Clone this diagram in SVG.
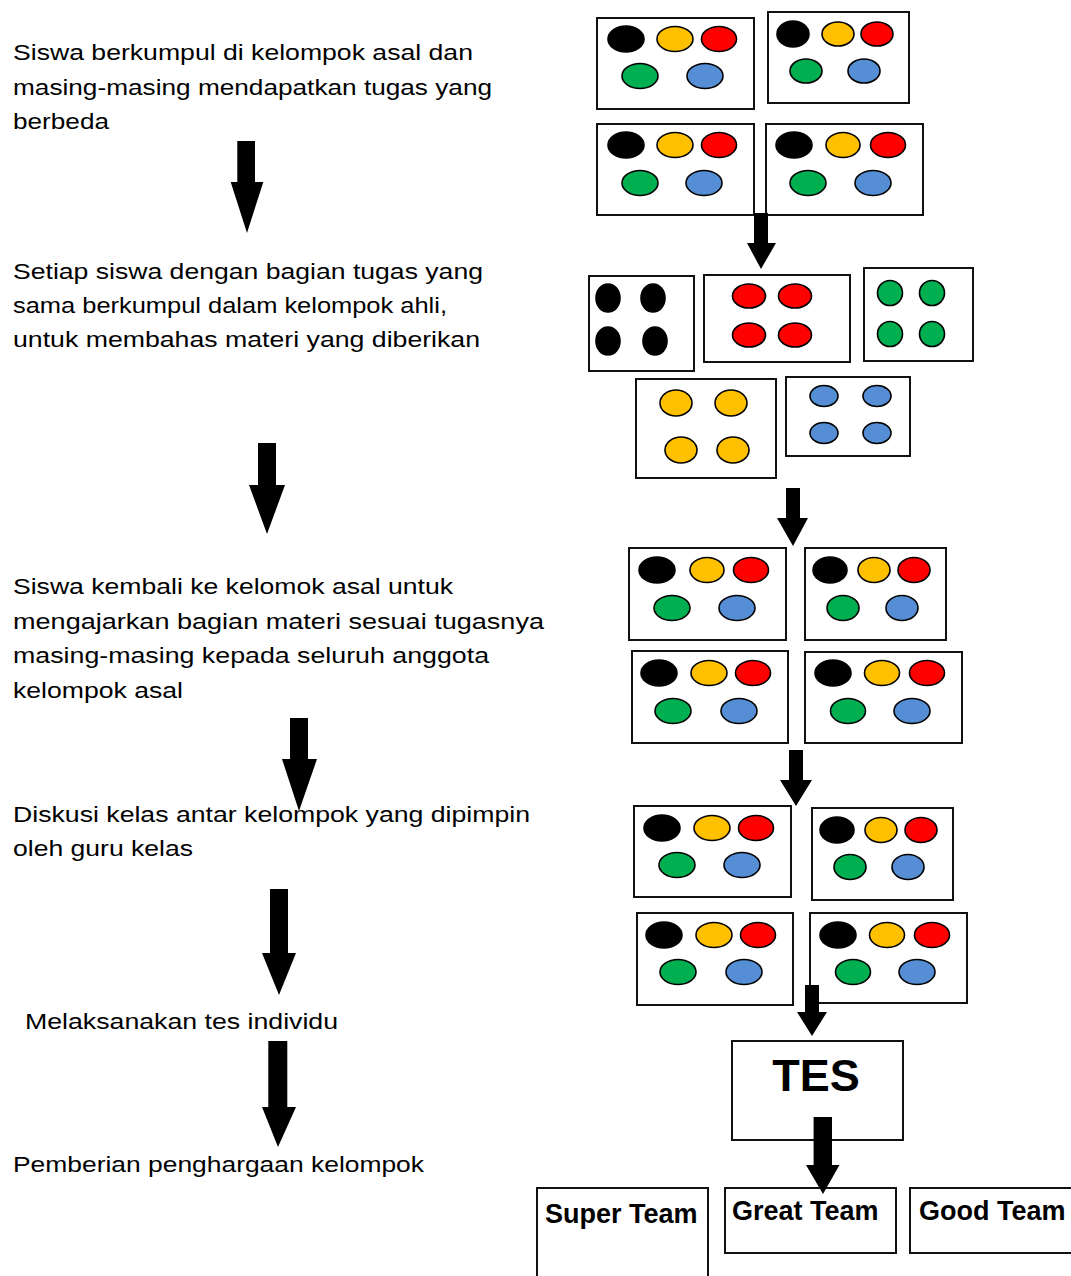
<svg xmlns="http://www.w3.org/2000/svg" width="1071" height="1276" viewBox="0 0 1071 1276">
<style>
.bg{fill:#fff}
.box{fill:#fff;stroke:#111;stroke-width:2}
.e{stroke:#000;stroke-width:1.6}
.k{fill:#000}.y{fill:#FFC000}.r{fill:#FF0000}.g{fill:#00B050}.b{fill:#558ED5}
.t{font-family:"Liberation Sans",Arial,sans-serif;font-size:22.5px;fill:#000}
.lb{font-family:"Liberation Sans",Arial,sans-serif;font-weight:bold;font-size:27px;fill:#000}
.arr{fill:#000}
</style>
<rect class="bg" x="0" y="0" width="1071" height="1276"/>

<g id="step-texts">
<g id="step1">
<text class="t" transform="translate(13,60) scale(1.165,1)" x="0" y="0" textLength="394.8" lengthAdjust="spacingAndGlyphs">Siswa berkumpul di kelompok asal dan</text>
<text class="t" transform="translate(13,95) scale(1.165,1)" x="0" y="0" textLength="411.2" lengthAdjust="spacingAndGlyphs">masing-masing mendapatkan tugas yang</text>
<text class="t" transform="translate(13,129) scale(1.165,1)" x="0" y="0" textLength="82.4" lengthAdjust="spacingAndGlyphs">berbeda</text>
</g>
<g id="step2">
<text class="t" transform="translate(13,279) scale(1.165,1)" x="0" y="0" textLength="403.4" lengthAdjust="spacingAndGlyphs">Setiap siswa dengan bagian tugas yang</text>
<text class="t" transform="translate(13,313) scale(1.165,1)" x="0" y="0" textLength="372.5" lengthAdjust="spacingAndGlyphs">sama berkumpul dalam kelompok ahli,</text>
<text class="t" transform="translate(13,347) scale(1.165,1)" x="0" y="0" textLength="400.9" lengthAdjust="spacingAndGlyphs">untuk membahas materi yang diberikan</text>
</g>
<g id="step3">
<text class="t" transform="translate(13,594) scale(1.165,1)" x="0" y="0" textLength="377.7" lengthAdjust="spacingAndGlyphs">Siswa kembali ke kelomok asal untuk</text>
<text class="t" transform="translate(13,629) scale(1.165,1)" x="0" y="0" textLength="455.8" lengthAdjust="spacingAndGlyphs">mengajarkan bagian materi sesuai tugasnya</text>
<text class="t" transform="translate(13,663) scale(1.165,1)" x="0" y="0" textLength="408.6" lengthAdjust="spacingAndGlyphs">masing-masing kepada seluruh anggota</text>
<text class="t" transform="translate(13,698) scale(1.165,1)" x="0" y="0" textLength="145.9" lengthAdjust="spacingAndGlyphs">kelompok asal</text>
</g>
<g id="step4">
<text class="t" transform="translate(13,822) scale(1.165,1)" x="0" y="0" textLength="443.8" lengthAdjust="spacingAndGlyphs">Diskusi kelas antar kelompok yang dipimpin</text>
<text class="t" transform="translate(13,856) scale(1.165,1)" x="0" y="0" textLength="154.5" lengthAdjust="spacingAndGlyphs">oleh guru kelas</text>
</g>
<g id="step5">
<text class="t" transform="translate(25,1029) scale(1.165,1)" x="0" y="0" textLength="268.7" lengthAdjust="spacingAndGlyphs">Melaksanakan tes individu</text>
</g>
<g id="step6">
<text class="t" transform="translate(13,1172) scale(1.165,1)" x="0" y="0" textLength="352.8" lengthAdjust="spacingAndGlyphs">Pemberian penghargaan kelompok</text>
</g>
</g>

<g id="home-a">
<rect class="box" x="597" y="18" width="157" height="91"/>
<ellipse class="e k" cx="626" cy="39" rx="18" ry="13"/>
<ellipse class="e y" cx="675" cy="39" rx="18" ry="12.5"/>
<ellipse class="e r" cx="719" cy="39" rx="17.5" ry="12.5"/>
<ellipse class="e g" cx="640" cy="76" rx="18" ry="12.5"/>
<ellipse class="e b" cx="705" cy="76" rx="18" ry="12.5"/>
</g>
<g id="home-b">
<rect class="box" x="768" y="12" width="141" height="91"/>
<ellipse class="e k" cx="793" cy="34" rx="16" ry="13"/>
<ellipse class="e y" cx="838" cy="34" rx="16" ry="12"/>
<ellipse class="e r" cx="877" cy="34" rx="16" ry="12"/>
<ellipse class="e g" cx="806" cy="71" rx="16" ry="12"/>
<ellipse class="e b" cx="864" cy="71" rx="16" ry="12"/>
</g>
<g id="home-c">
<rect class="box" x="597" y="124" width="157" height="91"/>
<ellipse class="e k" cx="626" cy="145" rx="18" ry="13"/>
<ellipse class="e y" cx="675" cy="145" rx="18" ry="12.5"/>
<ellipse class="e r" cx="719" cy="145" rx="17.5" ry="12.5"/>
<ellipse class="e g" cx="640" cy="183" rx="18" ry="12.5"/>
<ellipse class="e b" cx="704" cy="183" rx="18" ry="12.5"/>
</g>
<g id="home-d">
<rect class="box" x="766" y="124" width="157" height="91"/>
<ellipse class="e k" cx="794" cy="145" rx="18" ry="13"/>
<ellipse class="e y" cx="843" cy="145" rx="17" ry="12.5"/>
<ellipse class="e r" cx="888" cy="145" rx="17.5" ry="12.5"/>
<ellipse class="e g" cx="808" cy="183" rx="18" ry="12.5"/>
<ellipse class="e b" cx="873" cy="183" rx="18" ry="12.5"/>
</g>

<g id="expert-black">
<rect class="box" x="589" y="276" width="105" height="95"/>
<ellipse class="e k" cx="608" cy="298" rx="12" ry="14"/>
<ellipse class="e k" cx="653" cy="298" rx="12" ry="14"/>
<ellipse class="e k" cx="608" cy="341" rx="12" ry="14"/>
<ellipse class="e k" cx="655" cy="341" rx="12" ry="14"/>
</g>
<g id="expert-red">
<rect class="box" x="704" y="275" width="146" height="87"/>
<ellipse class="e r" cx="749" cy="296" rx="16.5" ry="12"/>
<ellipse class="e r" cx="795" cy="296" rx="16.5" ry="12"/>
<ellipse class="e r" cx="749" cy="335" rx="16.5" ry="12"/>
<ellipse class="e r" cx="795" cy="335" rx="16.5" ry="12"/>
</g>
<g id="expert-green">
<rect class="box" x="864" y="268" width="109" height="93"/>
<ellipse class="e g" cx="890" cy="293" rx="12.5" ry="12.5"/>
<ellipse class="e g" cx="932" cy="293" rx="12.5" ry="12.5"/>
<ellipse class="e g" cx="890" cy="334" rx="12.5" ry="12.5"/>
<ellipse class="e g" cx="932" cy="334" rx="12.5" ry="12.5"/>
</g>
<g id="expert-yellow">
<rect class="box" x="636" y="379" width="140" height="99"/>
<ellipse class="e y" cx="676" cy="403" rx="16" ry="13"/>
<ellipse class="e y" cx="731" cy="403" rx="16" ry="13"/>
<ellipse class="e y" cx="681" cy="450" rx="16" ry="13"/>
<ellipse class="e y" cx="733" cy="450" rx="16" ry="13"/>
</g>
<g id="expert-blue">
<rect class="box" x="786" y="377" width="124" height="79"/>
<ellipse class="e b" cx="824" cy="396" rx="14" ry="10.5"/>
<ellipse class="e b" cx="877" cy="396" rx="14" ry="10.5"/>
<ellipse class="e b" cx="824" cy="433" rx="14" ry="10.5"/>
<ellipse class="e b" cx="877" cy="433" rx="14" ry="10.5"/>
</g>

<g id="return-e">
<rect class="box" x="629" y="548" width="157" height="92"/>
<ellipse class="e k" cx="657" cy="570" rx="18" ry="13"/>
<ellipse class="e y" cx="707" cy="570" rx="17" ry="12.5"/>
<ellipse class="e r" cx="751" cy="570" rx="17.5" ry="12.5"/>
<ellipse class="e g" cx="672" cy="608" rx="18" ry="12.5"/>
<ellipse class="e b" cx="737" cy="608" rx="18" ry="12.5"/>
</g>
<g id="return-f">
<rect class="box" x="805" y="548" width="141" height="92"/>
<ellipse class="e k" cx="830" cy="570" rx="17" ry="13"/>
<ellipse class="e y" cx="874" cy="570" rx="16" ry="12.5"/>
<ellipse class="e r" cx="914" cy="570" rx="16" ry="12.5"/>
<ellipse class="e g" cx="843" cy="608" rx="16" ry="12.5"/>
<ellipse class="e b" cx="902" cy="608" rx="16" ry="12.5"/>
</g>
<g id="return-g">
<rect class="box" x="632" y="651" width="156" height="92"/>
<ellipse class="e k" cx="659" cy="673" rx="18" ry="13"/>
<ellipse class="e y" cx="709" cy="673" rx="18" ry="12.5"/>
<ellipse class="e r" cx="753" cy="673" rx="17.5" ry="12.5"/>
<ellipse class="e g" cx="673" cy="711" rx="18" ry="12.5"/>
<ellipse class="e b" cx="739" cy="711" rx="18" ry="12.5"/>
</g>
<g id="return-h">
<rect class="box" x="805" y="652" width="157" height="91"/>
<ellipse class="e k" cx="833" cy="673" rx="18" ry="13"/>
<ellipse class="e y" cx="882" cy="673" rx="17.5" ry="12.5"/>
<ellipse class="e r" cx="927" cy="673" rx="17.5" ry="12.5"/>
<ellipse class="e g" cx="848" cy="711" rx="17.5" ry="12.5"/>
<ellipse class="e b" cx="912" cy="711" rx="18" ry="12.5"/>
</g>

<g id="discuss-i">
<rect class="box" x="634" y="806" width="157" height="91"/>
<ellipse class="e k" cx="662" cy="828" rx="18" ry="13"/>
<ellipse class="e y" cx="712" cy="828" rx="18" ry="12.5"/>
<ellipse class="e r" cx="756" cy="828" rx="17.5" ry="12.5"/>
<ellipse class="e g" cx="677" cy="865" rx="18" ry="12.5"/>
<ellipse class="e b" cx="742" cy="865" rx="18" ry="12.5"/>
</g>
<g id="discuss-j">
<rect class="box" x="812" y="808" width="141" height="92"/>
<ellipse class="e k" cx="837" cy="830" rx="17" ry="13"/>
<ellipse class="e y" cx="881" cy="830" rx="16" ry="12.5"/>
<ellipse class="e r" cx="921" cy="830" rx="16" ry="12.5"/>
<ellipse class="e g" cx="850" cy="867" rx="16" ry="12.5"/>
<ellipse class="e b" cx="908" cy="867" rx="16" ry="12.5"/>
</g>
<g id="discuss-k">
<rect class="box" x="637" y="913" width="156" height="92"/>
<ellipse class="e k" cx="664" cy="935" rx="18" ry="13"/>
<ellipse class="e y" cx="714" cy="935" rx="18" ry="12.5"/>
<ellipse class="e r" cx="758" cy="935" rx="17.5" ry="12.5"/>
<ellipse class="e g" cx="678" cy="972" rx="18" ry="12.5"/>
<ellipse class="e b" cx="744" cy="972" rx="18" ry="12.5"/>
</g>
<g id="discuss-l">
<rect class="box" x="810" y="913" width="157" height="90"/>
<ellipse class="e k" cx="838" cy="935" rx="18" ry="13"/>
<ellipse class="e y" cx="887" cy="935" rx="17.5" ry="12.5"/>
<ellipse class="e r" cx="932" cy="935" rx="17.5" ry="12.5"/>
<ellipse class="e g" cx="853" cy="972" rx="17.5" ry="12.5"/>
<ellipse class="e b" cx="917" cy="972" rx="18" ry="12.5"/>
</g>

<g id="tes">
<rect class="box" x="732" y="1041" width="171" height="99"/>
<text x="816" y="1091" text-anchor="middle" style="font-family:'Liberation Sans',Arial,sans-serif;font-weight:bold;font-size:45px">TES</text>
</g>
<g id="super-team">
<rect class="box" x="537" y="1188" width="171" height="120"/>
<text class="lb" x="545" y="1223">Super Team</text>
</g>
<g id="great-team">
<rect class="box" x="725" y="1188" width="171" height="65"/>
<text class="lb" x="732" y="1220">Great Team</text>
</g>
<g id="good-team">
<rect class="box" x="910" y="1188" width="200" height="65"/>
<text class="lb" x="919" y="1220">Good Team</text>
</g>

<g id="connectors">
<path class="arr" d="M237.3 141 H255 V182 H263.3 L247 233 L230.7 182 H237.3 Z"/>
<path class="arr" d="M258 443 H276 V485 H285 L267 534 L249 485 H258 Z"/>
<path class="arr" d="M290 718 H308 V759 H317 L299 811 L282 759 H290 Z"/>
<path class="arr" d="M270 889 H288 V953 H296 L279 995 L262 953 H270 Z"/>
<path class="arr" d="M268.3 1041 H287.3 V1107 H296 L278 1147 L262 1107 H268.3 Z"/>
<path class="arr" d="M754 213 H768 V243 H776 L761 269 L747 243 H754 Z"/>
<path class="arr" d="M786 488 H800 V518 H808 L793 546 L777 518 H786 Z"/>
<path class="arr" d="M789 750 H803 V780 H812 L796 806 L780 780 H789 Z"/>
<path class="arr" d="M805 985 H819 V1012 H827 L812 1036 L797 1012 H805 Z"/>
<path class="arr" d="M813.6 1117 H832 V1165 H839.5 L823 1194 L806 1165 H813.6 Z"/>
</g>
</svg>
